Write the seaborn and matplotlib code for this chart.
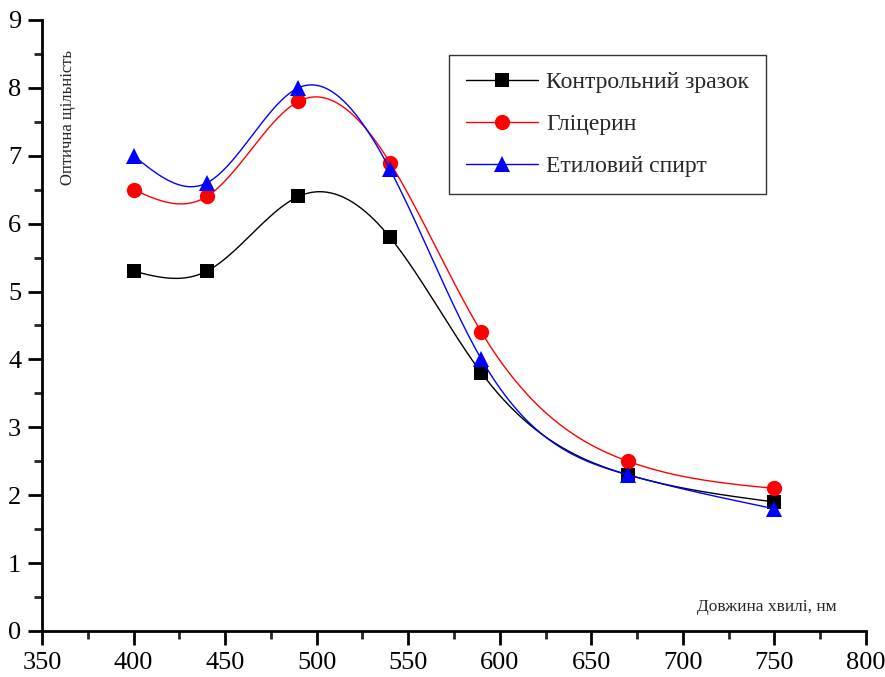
import numpy as np
import pandas as pd
import matplotlib
matplotlib.use("Agg")
import matplotlib.pyplot as plt
import seaborn as sns
from matplotlib.ticker import MultipleLocator

wavelength = [400, 440, 490, 540, 590, 670, 750]
control = [5.3, 5.3, 6.4, 5.8, 3.8, 2.3, 1.9]
glycerin = [6.5, 6.4, 7.8, 6.9, 4.4, 2.5, 2.1]
ethanol = [7.0, 6.6, 8.0, 6.8, 4.0, 2.3, 1.8]
series_names = ["Контрольний зразок", "Гліцерин", "Етиловий спирт"]
xticks = [350, 400, 450, 500, 550, 600, 650, 700, 750, 800]
yticks = list(range(0, 10))


def natural_spline(x, y, n=300):
    x = np.asarray(x, float)
    y = np.asarray(y, float)
    k = len(x)
    h = np.diff(x)
    A = np.zeros((k, k))
    b = np.zeros(k)
    A[0, 0] = 1
    A[-1, -1] = 1
    for i in range(1, k - 1):
        A[i, i - 1] = h[i - 1]
        A[i, i] = 2 * (h[i - 1] + h[i])
        A[i, i + 1] = h[i]
        b[i] = 6 * ((y[i + 1] - y[i]) / h[i] - (y[i] - y[i - 1]) / h[i - 1])
    M = np.linalg.solve(A, b)
    xs = np.linspace(x[0], x[-1], n)
    idx = np.clip(np.searchsorted(x, xs) - 1, 0, k - 2)
    x0, x1 = x[idx], x[idx + 1]
    hh = x1 - x0
    t0 = x1 - xs
    t1 = xs - x0
    ys = (M[idx] * t0 ** 3 / (6 * hh) + M[idx + 1] * t1 ** 3 / (6 * hh)
          + (y[idx] / hh - M[idx] * hh / 6) * t0
          + (y[idx + 1] / hh - M[idx + 1] * hh / 6) * t1)
    return xs, ys


sns.set_style("ticks")
plt.rcParams["font.family"] = ["Liberation Serif", "DejaVu Serif"]

fig = plt.figure(figsize=(8.85, 6.77), dpi=100)
ax = fig.add_axes([0.0475, 0.068, 0.931, 0.9025])

colors = ["black", "red", "blue"]
markers = ["s", "o", "^"]
msizes = [10.5, 11, 11.5]
data = [control, glycerin, ethanol]

for name, vals, c, m, ms in zip(series_names, data, colors, markers, msizes):
    xs, ys = natural_spline(wavelength, vals)
    sns.lineplot(x=xs, y=ys, ax=ax, color=c, lw=1.0, sort=False)
    df = pd.DataFrame({"x": wavelength, "y": vals})
    sns.lineplot(data=df, x="x", y="y", ax=ax, color=c, lw=0, marker=m,
                 markersize=ms, markeredgewidth=0)
    ax.plot([], [], color=c, lw=1.0, marker=m, markersize=ms,
            markeredgewidth=0, label=name)

ax.set_xlim(350, 800)
ax.set_ylim(0, 9)
ax.set_xticks(xticks)
ax.set_yticks(yticks)
ax.xaxis.set_minor_locator(MultipleLocator(25))
ax.yaxis.set_minor_locator(MultipleLocator(0.5))
ax.tick_params(axis="both", which="major", direction="out", length=10, width=2,
               labelsize=19, colors="black")
ax.tick_params(axis="x", which="major", pad=5)
ax.tick_params(axis="y", which="major", pad=5)
ax.tick_params(axis="both", which="minor", direction="out", length=6, width=2)
for s in ["top", "right"]:
    ax.spines[s].set_visible(False)
for s in ["left", "bottom"]:
    ax.spines[s].set_linewidth(2)
    ax.spines[s].set_color("black")
ax.set_xlabel("")
ax.set_ylabel("")

ax.text(0.032, 0.951, "Оптична щільність", transform=ax.transAxes, rotation=90,
        ha="center", va="top", fontsize=12)
ax.text(0.88, 0.039, "Довжина хвилі, нм", transform=ax.transAxes,
        ha="center", va="center", fontsize=12.5)

leg = ax.legend(loc="upper left", bbox_to_anchor=(0.4945, 0.943), fontsize=17,
                frameon=True, fancybox=False, edgecolor="black",
                handlelength=3.05, borderpad=0.72, labelspacing=0.86,
                handletextpad=0.33, borderaxespad=0)
leg.get_frame().set_linewidth(1.0)

fig.savefig("out.png", dpi=100)
